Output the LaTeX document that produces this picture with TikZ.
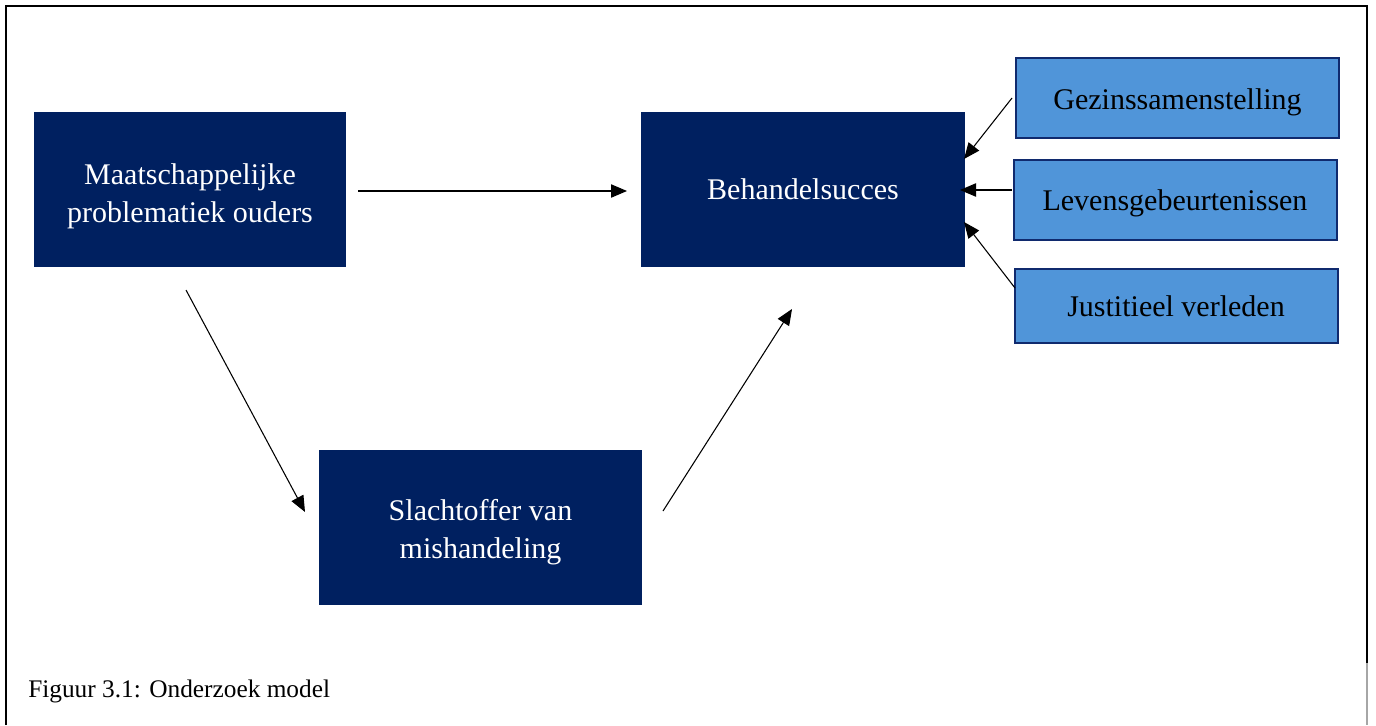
\documentclass[tikz,border=0pt]{standalone}
\usepackage{fontspec}
\setmainfont{Liberation Serif}
\usetikzlibrary{arrows.meta}
\definecolor{navy}{RGB}{0,32,96}
\definecolor{lblue}{RGB}{80,149,217}
\definecolor{lborder}{RGB}{16,42,110}
\newcommand\lowtext[2]{\raisebox{-#1}[\height][\depth]{\begin{tabular}{@{}c@{}}#2\end{tabular}}}
\tikzset{
  darkbox/.style={draw=none,fill=navy,text=white,align=center,inner sep=0pt,
    font=\fontsize{22.5}{28.5}\selectfont},
  lightbox/.style={draw=lborder,line width=1.5pt,fill=lblue,text=black,align=center,inner sep=0pt,
    font=\fontsize{22.5}{28.5}\selectfont},
  conn/.style={draw=black,line width=0.8pt,-{Triangle[length=12pt,width=10pt]}},
  frame/.style={draw=black,line width=1.4pt},
}
\begin{document}
\begin{tikzpicture}[x=0.75pt,y=-0.75pt]
\useasboundingbox (0,0) rectangle (1376,725);
% frame
\draw[frame] (6,725) -- (6,6) -- (1367,6) -- (1367,663);
\draw[draw=gray!70,line width=0.8pt] (1367,663) -- (1367,725);
% dark boxes
\node[darkbox,minimum width=312*0.75pt,minimum height=155*0.75pt] (A) at (190,189.5) {\lowtext{4.5pt}{Maatschappelijke\\problematiek ouders}};
\node[darkbox,minimum width=324*0.75pt,minimum height=155*0.75pt] (B) at (803,189.5) {Behandelsucces};
\node[darkbox,minimum width=323*0.75pt,minimum height=155*0.75pt] (C) at (480.5,527.5) {\lowtext{3.5pt}{Slachtoffer van\\mishandeling}};
% light boxes
\node[lightbox,minimum width=323*0.75pt,minimum height=80*0.75pt] (G) at (1177.5,97.5) {\lowtext{3pt}{Gezinssamenstelling}};
\node[lightbox,minimum width=323*0.75pt,minimum height=80*0.75pt] (L) at (1175,200) {\lowtext{2pt}{Levensgebeurtenissen}};
\node[lightbox,minimum width=323*0.75pt,minimum height=74*0.75pt] (J) at (1176,306) {Justitieel verleden};
% caption
\node[anchor=base west,inner sep=0pt,font=\fontsize{19}{23}\selectfont] (cap) at (28,697) {Figuur 3.1: Onderzoek model};
% connector ends
\coordinate (a1) at (358,191);
\coordinate (b1) at (627,191);
\coordinate (a2) at (186,290);
\coordinate (c1) at (305,512);
\coordinate (c2) at (663,511);
\coordinate (b2) at (792,309);
\coordinate (g1) at (1012,98);
\coordinate (b3) at (964,159);
\coordinate (l1) at (1012,190);
\coordinate (b4) at (960,190);
\coordinate (j1) at (1015,288);
\coordinate (b5) at (964,222);
\draw[conn] (a1) -- (b1);
\draw[conn] (a2) -- (c1);
\draw[conn] (c2) -- (b2);
\draw[conn] (g1) -- (b3);
\draw[conn] (l1) -- (b4);
\draw[conn] (j1) -- (b5);
\end{tikzpicture}
\end{document}
